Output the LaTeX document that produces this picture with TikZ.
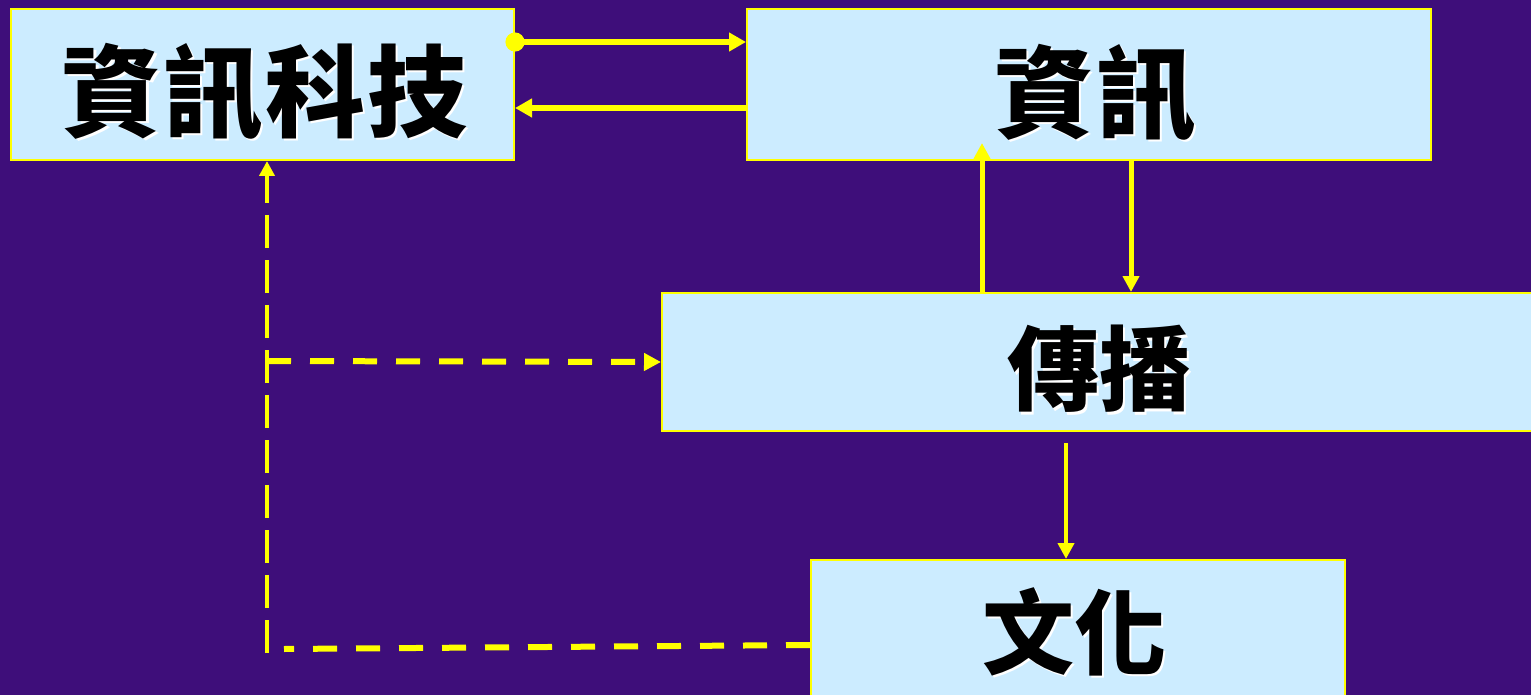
\documentclass[tikz,border=0pt]{standalone}
\usepackage{fontspec}
\newfontfamily\cjk{Noto Sans CJK TC}
\usetikzlibrary{arrows.meta}
\definecolor{bgpurple}{RGB}{62,14,122}
\definecolor{boxblue}{RGB}{204,236,255}
\definecolor{ylw}{RGB}{255,255,0}
\newcommand\glowtxt[2]{\raisebox{#1}[\height][\depth]{\makebox[0pt][l]{\textcolor{white}{\raisebox{-2.5pt}{\kern2.5pt #2}}}#2}}
\tikzset{
  box/.style={draw=ylw, line width=2pt, fill=boxblue, inner sep=0pt, anchor=north west,
    font=\cjk\bfseries\fontsize{100}{100}\selectfont, text=black},
  smallfont/.style={font=\cjk\bfseries\fontsize{92}{92}\selectfont},
  solidarrow/.style={draw=ylw, line width=6pt, -{Triangle[length=17pt,width=18pt]}},
  thinarrow/.style={draw=ylw, line width=5pt, -{Triangle[length=16pt,width=16pt]}},
  dashv/.style={draw=ylw, line width=4pt, dash pattern=on 33pt off 12pt, -{Triangle[length=15pt,width=15pt]}},
  dashh/.style={draw=ylw, line width=6pt, dash pattern=on 24pt off 19pt},
}
\begin{document}
\begin{tikzpicture}[x=1pt,y=-1pt]
\fill[bgpurple] (0,0) rectangle (1531,695);
\useasboundingbox (0,0) rectangle (1531,695);
\clip (0,0) rectangle (1531,695);
% boxes
\node[box, minimum width=503pt, minimum height=151pt] (a) at (10,8) {\kern4pt\glowtxt{-9pt}{資\kern2pt 訊\kern2pt 科\kern2pt 技}};
\node[box, minimum width=684pt, minimum height=151pt] (b) at (746,8) {\kern12pt\glowtxt{-10pt}{資\kern2pt 訊}};
\node[box, smallfont, minimum width=880pt, minimum height=138pt] (c) at (661,292) {\kern-6pt\glowtxt{-8pt}{傳播}};
\node[box, smallfont, minimum width=534pt, minimum height=162pt] (d) at (810,559) {\kern-8pt\glowtxt{8pt}{文化}};
% helper coordinates
\coordinate (xdown) at (1131,0);
\coordinate (xup) at (982,143);
\coordinate (xcul) at (1066,443);
\coordinate (vbot) at (267,653);
\coordinate (hmid) at (267,361);
\coordinate (bend) at (284,649);
% top arrows
\draw[solidarrow, {Circle[length=19pt]}-{Triangle[length=17pt,width=18pt]}, shorten <=-9.5pt]
  ([yshift=-34pt]a.north east) -- ([yshift=-34pt]b.north west);
\draw[solidarrow] ([yshift=-100pt]b.north west) -- ([yshift=-100pt]a.north east);
% vertical solid arrows
\draw[thinarrow] (c.north -| xup) -- (xup);
\draw[thinarrow] (b.south -| xdown) -- (c.north -| xdown);
\draw[thinarrow, line width=4.5pt] (xcul) -- (d.north -| xcul);
% dashed connectors
\draw[dashv] (vbot) -- (a.south -| vbot);
\draw[dashh, -{Triangle[length=17pt,width=17pt]}] (hmid) -- (c.west);
\draw[dashh] ([yshift=-4pt]d.west) -- (bend);
\end{tikzpicture}
\end{document}
